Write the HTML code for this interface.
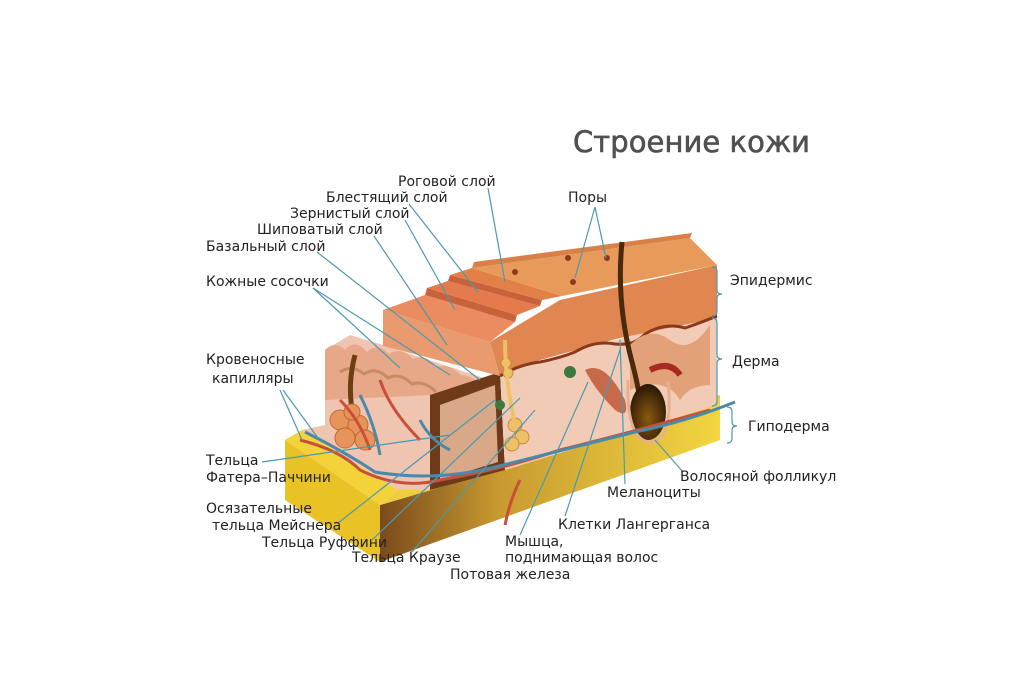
<!DOCTYPE html>
<html><head><meta charset="utf-8"><style>
html,body{margin:0;padding:0;background:#fff;}
svg{display:block;}
text{font-family:"DejaVu Sans","Liberation Sans",sans-serif;font-size:14px;fill:#222;}
</style></head><body>
<svg width="1024" height="683" viewBox="0 0 1024 683" xmlns="http://www.w3.org/2000/svg">
<defs>
<linearGradient id="slabR" x1="0" x2="1" y1="0" y2="0">
<stop offset="0" stop-color="#7a4a1c"/><stop offset="0.35" stop-color="#c89a30"/><stop offset="1" stop-color="#f2d640"/></linearGradient>
<radialGradient id="bulb" cx="0.5" cy="0.6" r="0.6"><stop offset="0" stop-color="#8a5a10"/><stop offset="1" stop-color="#2a1606"/></radialGradient>
</defs>
<rect width="1024" height="683" fill="#fff"/>
<text x="573" y="152" style="font-size:29px;fill:#505050;stroke:#505050;stroke-width:0.6" textLength="237">Строение кожи</text>

<!-- yellow slab -->
<polygon points="285,440 302,430 398,490 380,505" fill="#f4d23a"/>
<polygon points="285,440 380,505 380,562 285,500" fill="#e9c226"/>
<polygon points="380,505 720,405 720,440 380,562" fill="url(#slabR)"/>
<polygon points="398,490 720,395 720,405 380,505" fill="#f0cc40"/>

<!-- left dermis block -->
<polygon points="325,350 350,335 383,345 490,380 430,395 430,490 398,490 302,430 325,425" fill="#efc4b0"/>
<path d="M325,350 q10,-10 20,0 q10,-12 22,2 q10,-10 22,2 q12,-8 24,5 q12,-6 24,8 q12,-4 24,8 q10,0 20,10 L490,380 L430,395 L325,400 Z" fill="#e6a888"/>
<path d="M340,372 q12,-8 24,2 q12,-8 24,4 q12,-6 24,6 q12,-4 24,8" stroke="#c98a66" stroke-width="3" fill="none"/>
<!-- dark cut -->
<polygon points="430,395 500,372 505,470 430,490" fill="#6e3a1a"/>
<polygon points="440,405 495,385 498,462 440,480" fill="#d9a888"/>
<!-- right dermis cross-section -->
<polygon points="500,372 717,312 717,405 505,470" fill="#f1cbb6"/>
<!-- epidermis band on right -->
<polygon points="490,342 560,300 717,265 717,318 620,338 540,360 500,376" fill="#e08650"/>
<path d="M500,376 q20,-12 40,-14 q20,-4 35,-10 q20,-12 40,-8 q20,2 30,-10 q20,-12 40,-6 q15,-5 32,-12" stroke="#8a3a1a" stroke-width="3" fill="none"/>
<!-- left epidermis front -->
<polygon points="383,310 490,342 500,376 383,346" fill="#e99a6e"/>
<!-- stairs -->
<polygon points="383,310 425,295 515,322 490,342" fill="#ea8c60"/>
<polygon points="425,295 427,288 517,315 515,322" fill="#c8623a"/>
<polygon points="427,288 448,281 540,306 517,315" fill="#e57a4c"/>
<polygon points="448,281 450,275 542,300 540,306" fill="#c8623a"/>
<polygon points="450,275 472,268 562,296 542,300" fill="#e38048"/>
<polygon points="472,268 690,238 717,265 562,296" fill="#e89a5a"/>
<polygon points="472,268 474,262 692,233 690,238" fill="#d88048"/>
<!-- pores -->
<circle cx="515" cy="272" r="3" fill="#8a3a1a"/><circle cx="573" cy="282" r="3" fill="#8a3a1a"/>
<circle cx="607" cy="258" r="3" fill="#8a3a1a"/><circle cx="568" cy="258" r="3" fill="#8a3a1a"/>
<!-- papilla wavy right -->
<path d="M630,345 q20,-20 40,-5 q20,15 40,-15 l0,60 q-20,0 -30,15 q-15,-25 -50,-10 z" fill="#e3a17a"/>
<path d="M650,370 q20,-10 30,5" stroke="#a82a20" stroke-width="6" fill="none"/>
<!-- muscle -->
<path d="M585,370 q20,-10 40,30 q5,20 -10,10 q-20,-20 -30,-40z" fill="#c86a4a"/>
<!-- hair right -->
<path d="M622,242 q-6,60 10,120 q8,30 10,55" stroke="#4a2a0c" stroke-width="5" fill="none"/>
<ellipse cx="648" cy="412" rx="18" ry="28" fill="url(#bulb)"/>
<path d="M628,380 q-2,60 22,62 q24,-2 18,-60" stroke="#e6b090" stroke-width="3" fill="none"/>
<!-- left hair and gland -->
<path d="M355,355 q-8,30 -2,60" stroke="#6a4012" stroke-width="5" fill="none"/>
<g fill="#e7945a" stroke="#c06a30">
<circle cx="340" cy="420" r="10"/><circle cx="358" cy="425" r="10"/><circle cx="345" cy="438" r="10"/><circle cx="365" cy="440" r="10"/><circle cx="352" cy="412" r="8"/>
</g>
<!-- sweat gland coil -->
<g fill="#efc06a" stroke="#c98a30">
<circle cx="515" cy="425" r="7"/><circle cx="522" cy="437" r="7"/><circle cx="512" cy="444" r="7"/>
<circle cx="506" cy="363" r="5"/><circle cx="508" cy="373" r="5"/>
</g>
<path d="M505,340 q0,40 10,85" stroke="#efc06a" stroke-width="4" fill="none"/>
<!-- vessels -->
<g fill="none" stroke-width="3">
<path d="M300,440 q40,10 60,30 q40,20 80,10 q60,-10 120,-30 q80,-20 150,-40" stroke="#c8503a"/>
<path d="M305,432 q40,20 70,40 q60,10 120,-5 q80,-20 140,-35 q50,-10 100,-30" stroke="#4a8aa8"/>
<path d="M340,400 q20,20 30,50 M380,380 q10,30 40,60 M520,480 q-10,20 -15,45" stroke="#c8503a"/>
<path d="M360,395 q15,30 20,60 M420,420 q10,20 30,30" stroke="#4a8aa8"/>
</g>
<circle cx="570" cy="372" r="6" fill="#3a7a40"/><circle cx="500" cy="405" r="5" fill="#3a7a40"/>

<!-- leader lines -->
<g stroke="#4a9ab0" stroke-width="1.2" fill="none">
<line x1="488" y1="188" x2="505" y2="282"/>
<line x1="409" y1="204" x2="478" y2="292"/>
<line x1="405" y1="220" x2="455" y2="310"/>
<line x1="374" y1="236" x2="447" y2="345"/>
<line x1="317" y1="252" x2="480" y2="380"/>
<line x1="313" y1="288" x2="400" y2="368"/>
<line x1="313" y1="288" x2="450" y2="375"/>
<line x1="595" y1="207" x2="575" y2="278"/>
<line x1="595" y1="207" x2="606" y2="258"/>
<line x1="280" y1="390" x2="302" y2="440"/>
<line x1="283" y1="390" x2="318" y2="438"/>
<line x1="262" y1="462" x2="450" y2="435"/>
<line x1="338" y1="523" x2="495" y2="400"/>
<line x1="372" y1="540" x2="520" y2="398"/>
<line x1="412" y1="552" x2="535" y2="410"/>
<line x1="520" y1="535" x2="588" y2="382"/>
<line x1="565" y1="516" x2="620" y2="350"/>
<line x1="625" y1="484" x2="620" y2="340"/>
<line x1="683" y1="472" x2="655" y2="440"/>
<path d="M712,267 q5,0 5,5 l0,18 q0,4 5,4 q-5,0 -5,4 l0,13 q0,5 -5,5"/>
<path d="M712,318 q5,0 5,5 l0,32 q0,4 5,4 q-5,0 -5,4 l0,38 q0,5 -5,5"/>
<path d="M727,407 q5,0 5,5 l0,10 q0,4 5,4 q-5,0 -5,4 l0,8 q0,5 -5,5"/>
</g>

<!-- labels -->
<text x="398" y="186">Роговой слой</text>
<text x="326" y="202">Блестящий слой</text>
<text x="290" y="218">Зернистый слой</text>
<text x="257" y="234">Шиповатый слой</text>
<text x="206" y="251">Базальный слой</text>
<text x="206" y="286">Кожные сосочки</text>
<text x="568" y="202">Поры</text>
<text x="730" y="285">Эпидермис</text>
<text x="732" y="366">Дерма</text>
<text x="748" y="431">Гиподерма</text>
<text x="206" y="364">Кровеносные</text>
<text x="212" y="383">капилляры</text>
<text x="206" y="465">Тельца</text>
<text x="206" y="482">Фатера–Паччини</text>
<text x="206" y="513">Осязательные</text>
<text x="212" y="530">тельца Мейснера</text>
<text x="262" y="547">Тельца Руффини</text>
<text x="352" y="562">Тельца Краузе</text>
<text x="450" y="579">Потовая железа</text>
<text x="505" y="546">Мышца,</text>
<text x="505" y="562">поднимающая волос</text>
<text x="558" y="529">Клетки Лангерганса</text>
<text x="607" y="497">Меланоциты</text>
<text x="680" y="481">Волосяной фолликул</text>
</svg>
</body></html>
